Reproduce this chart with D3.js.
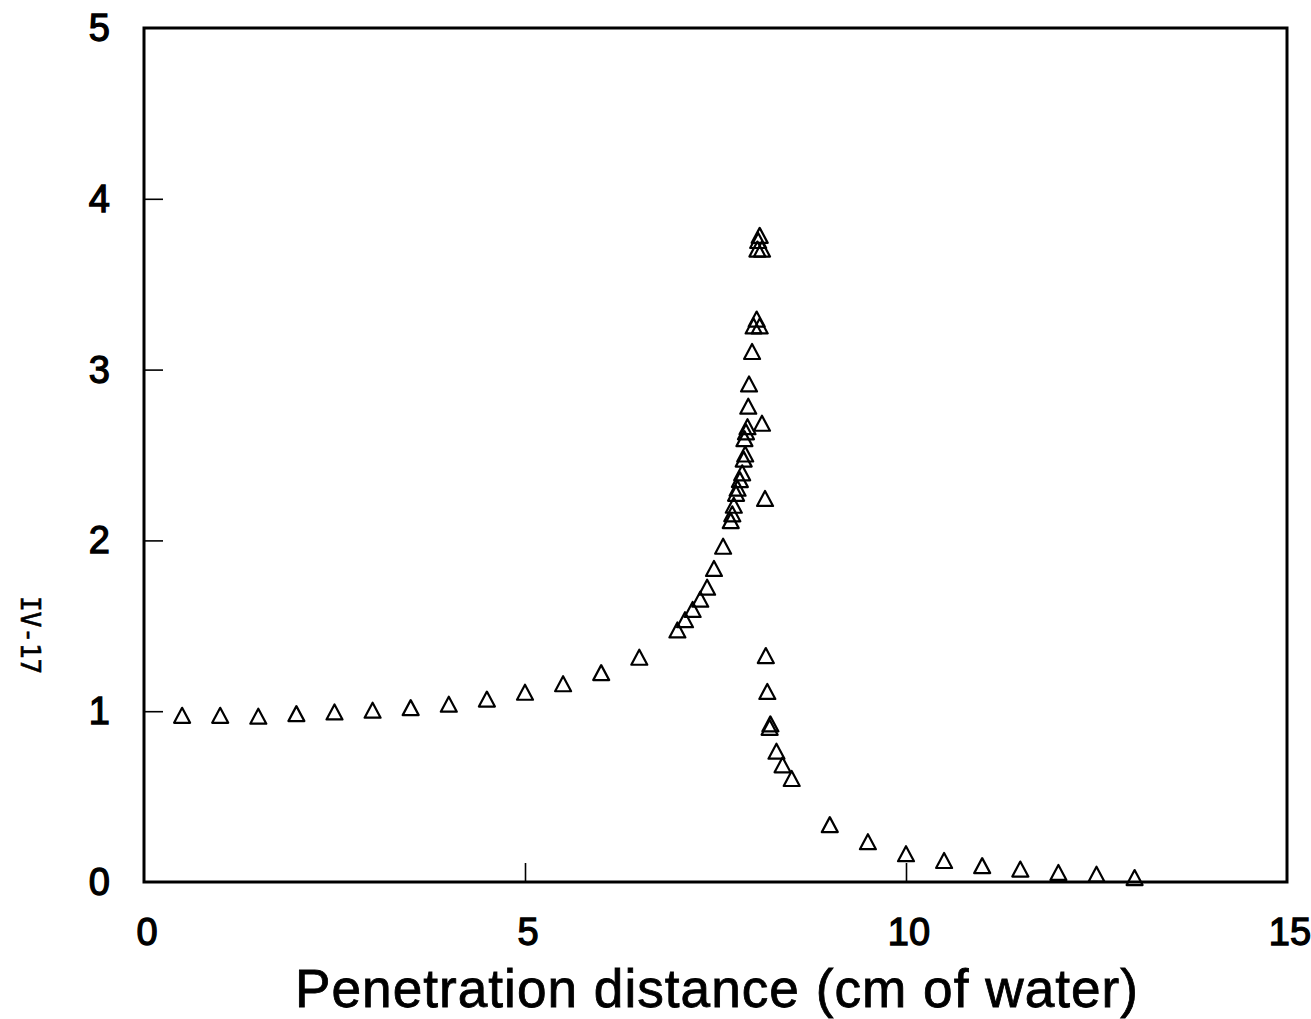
<!DOCTYPE html>
<html>
<head>
<meta charset="utf-8">
<script src="https://cdn.jsdelivr.net/npm/d3@7"></script>
<style>
  html, body { margin: 0; padding: 0; background: #fff; }
  svg { display: block; }
  text { fill: #000; }
</style>
</head>
<body>
<svg id="chart" width="1311" height="1019"></svg>
<script>
// Penetration distance (cm of water) for each measured point
const depthCm = [
  0.5, 1.0, 1.5, 2.0, 2.5, 3.0, 3.5, 4.0, 4.5, 5.0, 5.5, 6.0, 6.5,
  7.0, 7.1, 7.2, 7.3, 7.39, 7.48, 7.6,
  7.7, 7.72, 7.74, 7.77, 7.79, 7.82, 7.85, 7.87, 7.89, 7.88, 7.9, 7.92,
  7.93, 7.94, 7.98, 8.0, 8.08, 8.04, 8.05, 8.11, 8.06, 8.08,
  8.11, 8.15,
  8.16, 8.18, 8.22, 8.21, 8.3, 8.38, 8.5,
  9.0, 9.5, 10.0, 10.5, 11.0, 11.5, 12.0, 12.5, 13.0
];
// Relative value at each depth
const relativeValue = [
  0.97, 0.97, 0.965, 0.98, 0.99, 1.0, 1.015, 1.035, 1.065, 1.105, 1.155, 1.22, 1.31,
  1.47, 1.53, 1.59, 1.65, 1.72, 1.83, 1.96,
  2.11, 2.15, 2.2, 2.27, 2.3, 2.35, 2.39, 2.47, 2.5, 2.59, 2.63, 2.66,
  2.78, 2.91, 3.1, 3.25, 3.25, 3.29, 3.70, 3.70, 3.75, 3.78,
  2.68, 2.24,
  1.32, 1.11, 0.92, 0.90, 0.76, 0.68, 0.60,
  0.33, 0.23, 0.16, 0.12, 0.09, 0.07, 0.05, 0.04, 0.02
];
const xTickValues = [0, 5, 10, 15];
const yTickValues = [0, 1, 2, 3, 4, 5];
const xTitle = "Penetration distance (cm of water)";
const pageNumber = "IV-17";

const svg = d3.select("#chart");
const plot = { left: 144, right: 1287, top: 28, bottom: 882 };

const x = d3.scaleLinear().domain([0, 15]).range([plot.left, plot.right]);
const y = d3.scaleLinear().domain([0, 5]).range([plot.bottom, plot.top]);

// Interior tick marks (only the inner values carry a tick)
const tickLen = 19;
svg.append("g")
  .attr("transform", `translate(0,${plot.bottom})`)
  .call(d3.axisTop(x).tickValues(xTickValues.filter(v => v > 0 && v < 15))
        .tickSize(tickLen).tickFormat(""))
  .call(g => g.select(".domain").remove())
  .selectAll("line").attr("stroke", "#000").attr("stroke-width", 1.6);

svg.append("g")
  .attr("transform", `translate(${plot.left},0)`)
  .call(d3.axisRight(y).tickValues(yTickValues.filter(v => v > 0 && v < 5))
        .tickSize(tickLen).tickFormat(""))
  .call(g => g.select(".domain").remove())
  .selectAll("line").attr("stroke", "#000").attr("stroke-width", 1.6);

// Plot frame
svg.append("rect")
  .attr("x", plot.left).attr("y", plot.top)
  .attr("width", plot.right - plot.left).attr("height", plot.bottom - plot.top)
  .attr("fill", "none").attr("stroke", "#000").attr("stroke-width", 3);

// Tick labels
const labelFont = "'Liberation Sans', Arial, Helvetica, sans-serif";
svg.append("g").selectAll("text").data(xTickValues).join("text")
  .attr("x", d => x(d) + 3)
  .attr("y", 945)
  .attr("text-anchor", "middle")
  .style("font-family", labelFont)
  .style("font-size", "38px")
  .style("stroke", "#000")
  .style("stroke-width", "1.3px")
  .text(d => d);

svg.append("g").selectAll("text").data(yTickValues).join("text")
  .attr("x", 110)
  .attr("y", d => y(d) + 13)
  .attr("text-anchor", "end")
  .style("font-family", labelFont)
  .style("font-size", "38px")
  .style("stroke", "#000")
  .style("stroke-width", "1.3px")
  .text(d => d);

// Axis title, sized to span its measured width
const title = svg.append("text")
  .attr("x", 717)
  .attr("y", 1007)
  .attr("text-anchor", "middle")
  .style("font-family", labelFont)
  .style("font-size", "52px")
  .style("letter-spacing", "1px")
  .style("stroke", "#000")
  .style("stroke-width", "0.8px")
  .text(xTitle);
const tw = title.node().getComputedTextLength();
title.style("font-size", (52 * 845 / tw).toFixed(1) + "px");

// Page number printed along the left margin
svg.append("text")
  .attr("transform", "translate(21,596) rotate(90)")
  .style("font-family", "'DejaVu Sans Mono', 'Liberation Mono', monospace")
  .style("font-size", "26px")
  .style("stroke", "#000")
  .style("stroke-width", "0.6px")
  .text(pageNumber);

// Open triangle markers
const tri = "M0,-8.5L8,6.5L-8,6.5Z";
const points = depthCm.map((d, i) => ({ d, v: relativeValue[i] }));
svg.append("g").selectAll("path").data(points).join("path")
  .attr("d", tri)
  .attr("transform", p => `translate(${x(p.d)},${y(p.v)})`)
  .attr("fill", "none")
  .attr("stroke", "#000")
  .attr("stroke-width", 2.2)
  .attr("stroke-linejoin", "round");
</script>
</body>
</html>
